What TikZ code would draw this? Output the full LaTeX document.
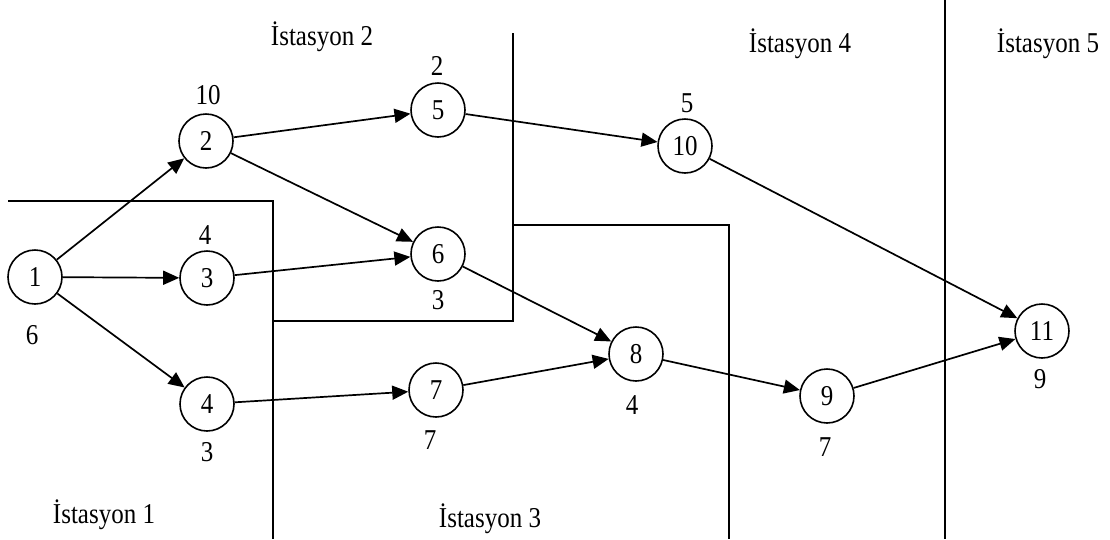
\documentclass[tikz,border=0pt]{standalone}
\usepackage{fontspec}
\setmainfont{Liberation Serif}
\usetikzlibrary{arrows.meta}
\newcommand{\Txt}[1]{\scalebox{1}[1.15]{#1}}
\begin{document}
\begin{tikzpicture}[x=1pt,y=-1pt,
  every node/.style={font=\fontsize{25}{30}\selectfont},
  task/.style={circle,draw,line width=1.6pt,minimum size=54pt,inner sep=0pt},
  lbl/.style={inner sep=0pt,anchor=center},
  stn/.style={inner sep=0pt,anchor=base},
  edge/.style={line width=1.7pt,-{Triangle[length=16pt,width=14pt]}},
  wall/.style={line width=1.8pt}]
\useasboundingbox (0,0) rectangle (1110,539);
% station boundaries
\draw[wall] (8,201) -- (273,201) -- (273,539);
\draw[wall] (273,321) -- (513,321) -- (513,33);
\draw[wall] (513,225) -- (729,225) -- (729,539);
\draw[wall] (945,0) -- (945,539);
% nodes
\node[task] (n1) at (35,277) {\Txt{1}};
\node[task] (n2) at (206,141) {\Txt{2}};
\node[task] (n3) at (207,278) {\Txt{3}};
\node[task] (n4) at (207,404) {\Txt{4}};
\node[task] (n5) at (438,110) {\Txt{5}};
\node[task] (n6) at (438,254) {\Txt{6}};
\node[task] (n7) at (436,390) {\Txt{7}};
\node[task] (n8) at (636,354) {\Txt{8}};
\node[task] (n9) at (827,396) {\Txt{9}};
\node[task] (n10) at (685,146) {\Txt{10}};
\node[task] (n11) at (1042,331) {\Txt{11}};
% edges
\draw[edge] (n1) -- (n2);
\draw[edge] (n1) -- (n3);
\draw[edge] (n1) -- (n4);
\draw[edge] (n2) -- (n5);
\draw[edge] (n2) -- (n6);
\draw[edge] (n3) -- (n6);
\draw[edge] (n4) -- (n7);
\draw[edge] (n5) -- (n10);
\draw[edge] (n6) -- (n8);
\draw[edge] (n7) -- (n8);
\draw[edge] (n8) -- (n9);
\draw[edge] (n9) -- (n11);
\draw[edge] (n10) -- (n11);
% times
\node[lbl] (t1) at (32,335) {\Txt{6}};
\node[lbl] (t2) at (208,95) {\Txt{10}};
\node[lbl] (t3) at (205,235) {\Txt{4}};
\node[lbl] (t4) at (207,452) {\Txt{3}};
\node[lbl] (t5) at (437,66) {\Txt{2}};
\node[lbl] (t6) at (438,300) {\Txt{3}};
\node[lbl] (t7) at (430,440) {\Txt{7}};
\node[lbl] (t8) at (632,405) {\Txt{4}};
\node[lbl] (t9) at (825,447) {\Txt{7}};
\node[lbl] (t10) at (687,103) {\Txt{5}};
\node[lbl] (t11) at (1040,379) {\Txt{9}};
% stations
\node[stn] (s1) at (104,523) {\Txt{İstasyon 1}};
\node[stn] (s2) at (322,45) {\Txt{İstasyon 2}};
\node[stn] (s3) at (490,527) {\Txt{İstasyon 3}};
\node[stn] (s4) at (800,52) {\Txt{İstasyon 4}};
\node[stn] (s5) at (1048,52) {\Txt{İstasyon 5}};
\end{tikzpicture}
\end{document}
